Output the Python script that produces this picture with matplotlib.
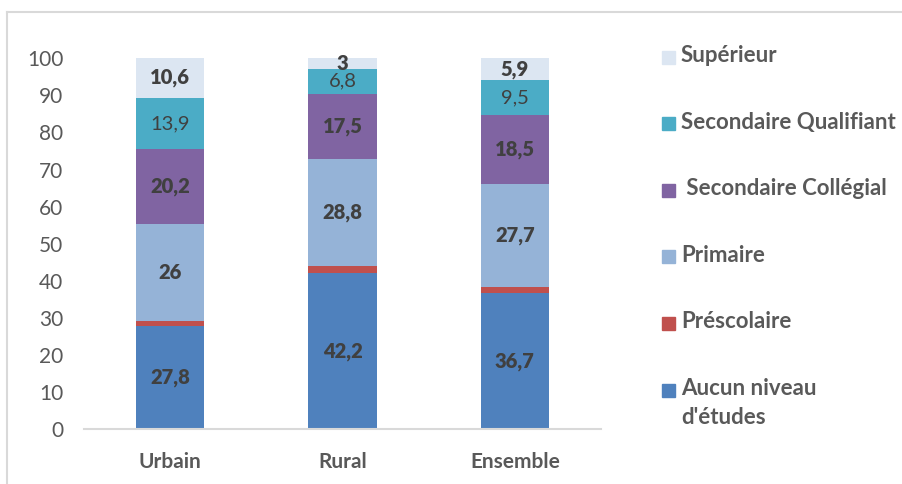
import matplotlib.pyplot as plt
from matplotlib.patches import Rectangle
from matplotlib.lines import Line2D
import numpy as np

plt.rcParams['font.family'] = ['Lato', 'DejaVu Sans']

# === Data ===
zones = ["Urbain", "Rural", "Ensemble"]
niveaux = ["Aucun niveau\nd'études", "Préscolaire", "Primaire",
           " Secondaire Collégial", "Secondaire Qualifiant", "Supérieur"]
aucun = [27.8, 42.2, 36.7]
prescolaire = [1.5, 1.9, 1.7]
primaire = [26, 28.8, 27.7]
college = [20.2, 17.5, 18.5]
qualifiant = [13.9, 6.8, 9.5]
superieur = [10.6, 3, 5.9]
series = [aucun, prescolaire, primaire, college, qualifiant, superieur]

colors = ["#4f81bd", "#c0504d", "#95b3d7", "#8064a2", "#4bacc6", "#dce6f2"]
# which series get labels, and bold or not
show_label = [True, False, True, True, True, True]
bold_label = [True, False, True, True, False, True]

W, H = 903, 484
fig = plt.figure(figsize=(W / 100, H / 100), dpi=100)
ax = fig.add_axes([84 / W, 1 - 429.3 / H, (601 - 84) / W, (429.3 - 58.3) / H])

x = np.arange(len(zones))
bottom = np.zeros(len(zones))
for vals, col, show, bold in zip(series, colors, show_label, bold_label):
    vals = np.array(vals, dtype=float)
    bars = ax.bar(x, vals, 0.395, bottom=bottom, color=col, clip_on=False)
    if show:
        labels = [f"{v:g}".replace(".", ",") for v in vals]
        ax.bar_label(bars, labels=labels, label_type="center", fontsize=14.5,
                     fontweight="heavy" if bold else "normal", color="#404040")
    bottom += vals

ax.set_xlim(-0.5, 2.5)
ax.set_ylim(0, 100)
ax.set_yticks(range(0, 101, 10))
ax.set_xticks(x)
ax.set_xticklabels(zones, fontweight="bold")
ax.tick_params(axis="y", length=0, pad=15, labelsize=15, labelcolor="#595959")
ax.tick_params(axis="x", length=0, pad=16, labelsize=15, labelcolor="#595959")
for s in ["top", "right", "left"]:
    ax.spines[s].set_visible(False)
ax.spines["bottom"].set_color("#d9d9d9")
ax.spines["bottom"].set_linewidth(1.5)

# === Legend (reversed order, drawn by hand) ===
y0, step = 57, 66.6
for i, (name, col) in enumerate(zip(niveaux[::-1], colors[::-1])):
    yc = y0 + i * step
    fig.patches.append(Rectangle((662 / W, 1 - (yc + 6.5) / H), 13 / W, 13 / H,
                                 transform=fig.transFigure, color=col))
    fig.text(681 / W, 1 - (yc - 12) / H, name, fontsize=16, fontweight="bold",
             color="#595959", va="top", linespacing=1.5)

# === chart frame ===
fig.add_artist(Line2D([7 / W, 7 / W], [0, 1 - 12 / H], color="#d9d9d9", lw=1.5))
fig.add_artist(Line2D([7 / W, 1], [1 - 12 / H, 1 - 12 / H], color="#d9d9d9", lw=1.5))

fig.savefig("out.png", dpi=100)
